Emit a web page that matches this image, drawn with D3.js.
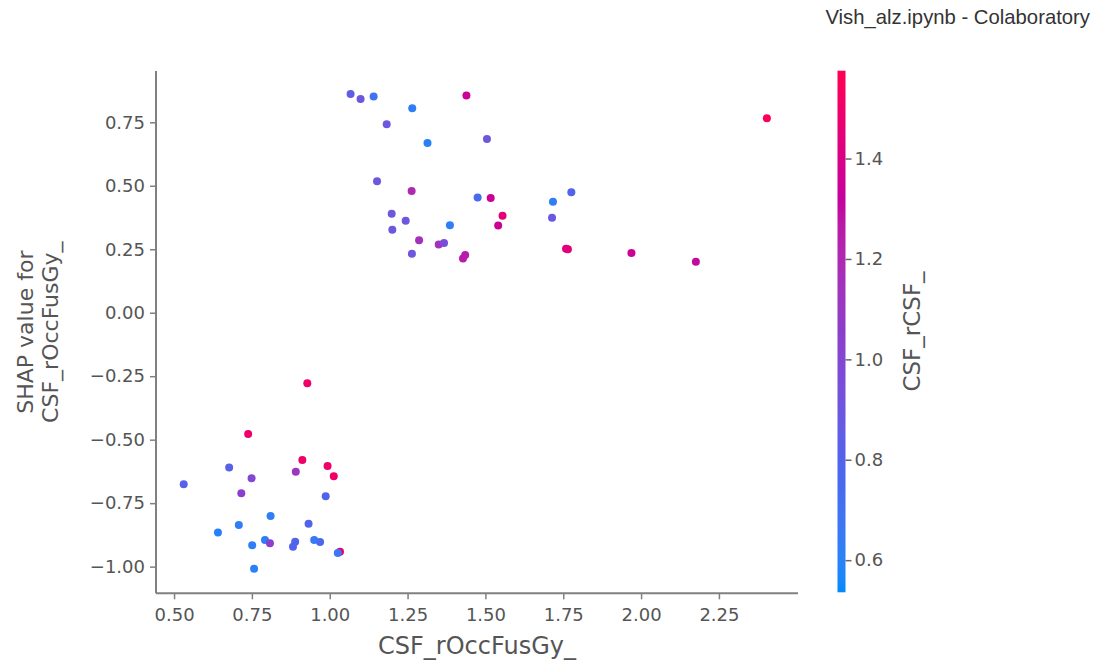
<!DOCTYPE html>
<html>
<head>
<meta charset="utf-8">
<script src="https://cdn.jsdelivr.net/npm/d3@7/dist/d3.min.js"></script>
<style>
  html, body { margin: 0; padding: 0; background: #fff; }
  svg { display: block; }
  text { font-family: "DejaVu Sans", sans-serif; }
</style>
</head>
<body>
<svg id="chart" width="1099" height="662"></svg>
<script>
// ---- data ----
const featureX = [
  1.067, 1.099, 1.141, 1.439, 1.265, 1.183, 1.314, 1.505, 1.152, 1.263,
  1.475, 1.517, 1.717, 1.776, 1.199, 1.244, 1.555, 1.541, 1.714, 1.386,
  1.201, 1.287, 1.350, 1.367, 1.264, 1.428, 1.435, 1.759, 1.765, 2.404,
  1.969, 2.176,
  0.928, 0.738, 0.912, 0.993, 1.013, 0.891, 0.677, 0.749, 0.531, 0.716,
  0.987, 0.810, 0.932, 0.708, 0.641, 0.792, 0.808, 0.889, 0.882, 0.950,
  0.969, 1.033, 1.026, 0.751, 0.757
];
const shapValues = [
  0.861, 0.842, 0.852, 0.856, 0.805, 0.742, 0.668, 0.684, 0.518, 0.479,
  0.454, 0.452, 0.437, 0.474, 0.390, 0.362, 0.382, 0.344, 0.374, 0.345,
  0.327, 0.285, 0.269, 0.275, 0.232, 0.214, 0.227, 0.252, 0.250, 0.766,
  0.235, 0.201,
  -0.278, -0.478, -0.580, -0.604, -0.644, -0.626, -0.610, -0.652, -0.676, -0.711,
  -0.723, -0.801, -0.831, -0.836, -0.866, -0.895, -0.908, -0.902, -0.922, -0.895,
  -0.903, -0.941, -0.946, -0.916, -1.008
];
const colorValues = [
  0.85, 0.90, 0.70, 1.35, 0.62, 0.90, 0.60, 0.90, 0.90, 1.20,
  0.75, 1.35, 0.62, 0.80, 0.90, 0.90, 1.45, 1.35, 0.88, 0.62,
  0.90, 1.15, 1.15, 0.95, 0.90, 1.25, 1.25, 1.40, 1.45, 1.55,
  1.35, 1.30,
  1.50, 1.50, 1.50, 1.50, 1.50, 1.12, 0.82, 1.00, 0.82, 1.05,
  0.80, 0.62, 0.80, 0.62, 0.60, 0.62, 1.05, 0.80, 0.80, 0.65,
  0.75, 1.45, 0.68, 0.62, 0.60
];
const xTicks = [0.50, 0.75, 1.00, 1.25, 1.50, 1.75, 2.00, 2.25];
const yTicks = [-1.00, -0.75, -0.50, -0.25, 0.00, 0.25, 0.50, 0.75];
const cTicks = [0.6, 0.8, 1.0, 1.2, 1.4];
const xDomain = [0.442, 2.504];
const yDomain = [-1.105, 0.952];
const cDomain = [0.536, 1.575];
const xLabel = "CSF_rOccFusGy_";
const yLabelLines = ["SHAP value for", "CSF_rOccFusGy_"];
const cLabel = "CSF_rCSF_";
const pageTitle = "Vish_alz.ipynb - Colaboratory";

// ---- layout ----
const plot = { left: 156, right: 798, top: 71, bottom: 593.3 };
const cbar = { left: 837.5, width: 8, top: 70.7, bottom: 592.3 };
const axisColor = "#808080";
const textColor = "#555";

const svg = d3.select("#chart");

const x = d3.scaleLinear().domain(xDomain).range([plot.left, plot.right]);
const y = d3.scaleLinear().domain(yDomain).range([plot.bottom, plot.top]);
const cPos = d3.scaleLinear().domain(cDomain).range([cbar.bottom, cbar.top]);

// SHAP-like red_blue colormap (blue -> purple -> magenta -> red)
const cmap = d3.piecewise(d3.interpolateLab, ["#008bfb", "#4f63ec", "#8c3dcc", "#c4009f", "#ff0052"]);
const color = d3.scaleSequential(cmap).domain(cDomain).clamp(true);

// title
svg.append("text")
  .attr("x", 1090).attr("y", 24)
  .attr("text-anchor", "end")
  .style("font-family", "'Liberation Sans', Arial, sans-serif")
  .style("font-size", "20.3px")
  .attr("fill", "#333")
  .text(pageTitle);

// axes
const fmt = d3.format(".2f");
const xAxis = svg.append("g")
  .attr("transform", `translate(0,${plot.bottom})`)
  .call(d3.axisBottom(x).tickValues(xTicks).tickFormat(fmt).tickSize(6).tickSizeOuter(0));
const yAxis = svg.append("g")
  .attr("transform", `translate(${plot.left},0)`)
  .call(d3.axisLeft(y).tickValues(yTicks).tickFormat(fmt).tickSize(6).tickSizeOuter(0));

[xAxis, yAxis].forEach(g => {
  g.select(".domain").attr("stroke", axisColor).attr("stroke-width", 2);
  g.selectAll(".tick line").attr("stroke", axisColor).attr("stroke-width", 1.5);
  g.selectAll(".tick text")
    .attr("fill", textColor)
    .style("font-size", "18px")
    .style("font-family", "'DejaVu Sans', sans-serif");
});
xAxis.selectAll(".tick text").attr("dy", "1.05em");
yAxis.selectAll(".tick text").attr("x", -11);
xAxis.select(".domain").attr("d", `M${plot.left},0H${plot.right}`);
yAxis.select(".domain").attr("d", `M0,${plot.bottom}V${plot.top}`);

// points
const pts = d3.range(featureX.length);
svg.append("g").selectAll("circle")
  .data(pts)
  .join("circle")
  .attr("cx", i => x(featureX[i]))
  .attr("cy", i => y(shapValues[i]))
  .attr("r", 4)
  .attr("fill", i => color(colorValues[i]));

// axis labels
svg.append("text")
  .attr("x", (plot.left + plot.right) / 2).attr("y", 654)
  .attr("text-anchor", "middle")
  .attr("fill", textColor)
  .style("font-size", "24px")
  .text(xLabel);

const yl = svg.append("text")
  .attr("transform", `translate(33,${(plot.top + plot.bottom) / 2}) rotate(-90)`)
  .attr("text-anchor", "middle")
  .attr("fill", textColor)
  .style("font-size", "22px");
yLabelLines.forEach((l, i) => {
  yl.append("tspan").attr("x", 0).attr("dy", i === 0 ? 0 : "1.15em").text(l);
});

// colorbar
const defs = svg.append("defs");
const grad = defs.append("linearGradient")
  .attr("id", "cbgrad").attr("x1", 0).attr("y1", 1).attr("x2", 0).attr("y2", 0);
d3.range(0, 1.0001, 0.02).forEach(t => {
  grad.append("stop").attr("offset", t).attr("stop-color", cmap(t));
});
svg.append("rect")
  .attr("x", cbar.left).attr("y", cbar.top)
  .attr("width", cbar.width).attr("height", cbar.bottom - cbar.top)
  .attr("fill", "url(#cbgrad)");

const cAxis = svg.append("g")
  .attr("transform", `translate(${cbar.left + cbar.width},0)`)
  .call(d3.axisRight(cPos).tickValues(cTicks).tickFormat(d3.format(".1f")).tickSize(6).tickSizeOuter(0));
cAxis.select(".domain").remove();
cAxis.selectAll(".tick line").attr("stroke", "#666").attr("stroke-width", 1.5);
cAxis.selectAll(".tick text")
  .attr("fill", textColor)
  .attr("x", 9)
  .style("font-size", "18px")
  .style("font-family", "'DejaVu Sans', sans-serif");

svg.append("text")
  .attr("transform", `translate(920,${(cbar.top + cbar.bottom) / 2}) rotate(-90)`)
  .attr("text-anchor", "middle")
  .attr("fill", textColor)
  .style("font-size", "23px")
  .text(cLabel);
</script>
</body>
</html>
